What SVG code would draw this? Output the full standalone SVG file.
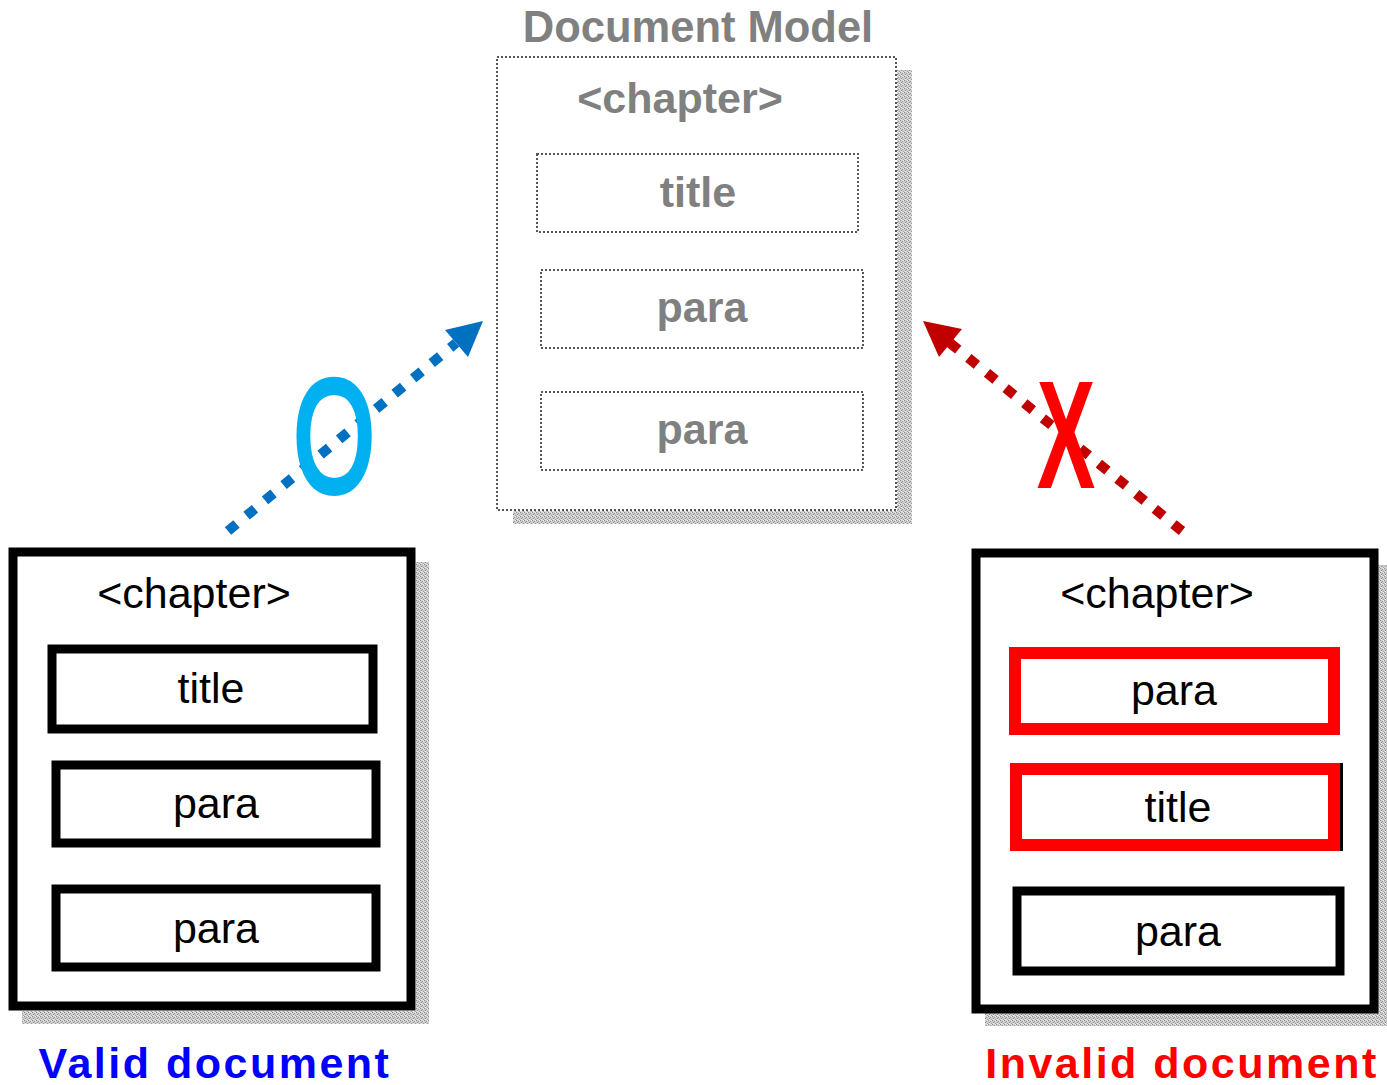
<svg xmlns="http://www.w3.org/2000/svg" width="1387" height="1085" viewBox="0 0 1387 1085">
<style>
.dm{font-family:"Liberation Sans",Arial,sans-serif;font-weight:bold;fill:#808080;text-anchor:middle}
.bx{font-family:"Liberation Sans",Arial,sans-serif;font-size:43px;fill:#000;text-anchor:middle}
.dot{fill:none;stroke:#555;stroke-width:2;stroke-dasharray:2 2}
.blk{fill:#fff;stroke:#000;stroke-width:9}
.red{fill:none;stroke:#ff0000;stroke-width:12}
.cap{font-family:"Liberation Sans",Arial,sans-serif;font-weight:bold;font-size:43px;letter-spacing:2.5px}
</style>
<defs>
<pattern id="shade" width="4" height="4" patternUnits="userSpaceOnUse">
<rect width="4" height="4" fill="#cfcfcf"/>
<rect x="0" y="0" width="1" height="1" fill="#8a8a8a"/>
<rect x="2" y="1" width="1" height="1" fill="#9a9a9a"/>
<rect x="1" y="2" width="1" height="1" fill="#888"/>
<rect x="3" y="3" width="1" height="1" fill="#a0a0a0"/>
<rect x="3" y="0" width="1" height="1" fill="#eee"/>
<rect x="1" y="3" width="1" height="1" fill="#eee"/>
</pattern>
</defs>
<rect width="1387" height="1085" fill="#fff"/>

<g id="model">
<text class="dm" x="698" y="42" font-size="43.5">Document Model</text>
<rect x="897" y="70" width="15" height="454" fill="url(#shade)"/>
<rect x="513" y="511" width="399" height="13" fill="url(#shade)"/>
<rect x="497" y="57" width="399" height="453" fill="#fff" class="dot"/>
<text class="dm" x="680" y="113" font-size="43">&lt;chapter&gt;</text>
<g id="m-title"><rect x="537" y="154" width="321" height="78" class="dot"/><text class="dm" x="698" y="207" font-size="43">title</text></g>
<g id="m-para1"><rect x="541" y="270" width="322" height="78" class="dot"/><text class="dm" x="702" y="322" font-size="43">para</text></g>
<g id="m-para2"><rect x="541" y="392" width="322" height="78" class="dot"/><text class="dm" x="702" y="444" font-size="43">para</text></g>
</g>

<g id="valid">
<rect x="416" y="562" width="13" height="462" fill="url(#shade)"/>
<rect x="22" y="1011" width="407" height="13" fill="url(#shade)"/>
<rect x="13" y="552" width="398" height="454" class="blk" stroke-width="10"/>
<text class="bx" x="194" y="608">&lt;chapter&gt;</text>
<g id="v-title"><rect x="52" y="649" width="321" height="80" class="blk"/><text class="bx" x="211" y="703">title</text></g>
<g id="v-para1"><rect x="56" y="765" width="320" height="78" class="blk"/><text class="bx" x="216" y="818">para</text></g>
<g id="v-para2"><rect x="56" y="889" width="320" height="78" class="blk"/><text class="bx" x="216" y="943">para</text></g>
<text class="cap" x="215" y="1078" fill="#0000ff" text-anchor="middle">Valid document</text>
</g>

<g id="invalid">
<rect x="1378" y="565" width="9" height="461" fill="url(#shade)"/>
<rect x="985" y="1013" width="402" height="13" fill="url(#shade)"/>
<rect x="976" y="553" width="398" height="456" class="blk" stroke-width="9"/>
<text class="bx" x="1157" y="608">&lt;chapter&gt;</text>
<g id="i-para1"><rect x="1010" y="648" width="329" height="86" fill="#fff" stroke="#000" stroke-width="2"/><rect x="1015" y="653" width="319" height="76" class="red"/><text class="bx" x="1174" y="705">para</text></g>
<g id="i-title"><rect x="1017" y="767" width="322" height="80" fill="#fff" stroke="#000" stroke-width="8"/><rect x="1016" y="769" width="318" height="76" class="red"/><text class="bx" x="1178" y="822">title</text></g>
<g id="i-para2"><rect x="1017" y="891" width="323" height="80" class="blk"/><text class="bx" x="1178" y="946">para</text></g>
<text class="cap" x="1182" y="1078" fill="#ff0000" text-anchor="middle">Invalid document</text>
</g>

<g id="connectors">
<line x1="228" y1="531" x2="456" y2="343" stroke="#0070c0" stroke-width="10" stroke-dasharray="11 13"/>
<polygon points="483,321 445,330 468,357" fill="#0070c0"/>
<line x1="1182" y1="531" x2="950" y2="343" stroke="#c00000" stroke-width="10" stroke-dasharray="11 13"/>
<polygon points="923,321 962,329 939,357" fill="#c00000"/>
</g>

<g id="marks">
<text transform="translate(334,491) scale(0.657,1)" font-family="Liberation Sans,Arial,sans-serif" font-size="159" fill="#00b0f0" stroke="#00b0f0" stroke-width="5" vector-effect="non-scaling-stroke" text-anchor="middle">O</text>
<text transform="translate(1066,488) scale(0.57,1)" font-family="Liberation Sans,Arial,sans-serif" font-weight="bold" font-size="154" fill="#ff0000" text-anchor="middle">X</text>
</g>
</svg>
